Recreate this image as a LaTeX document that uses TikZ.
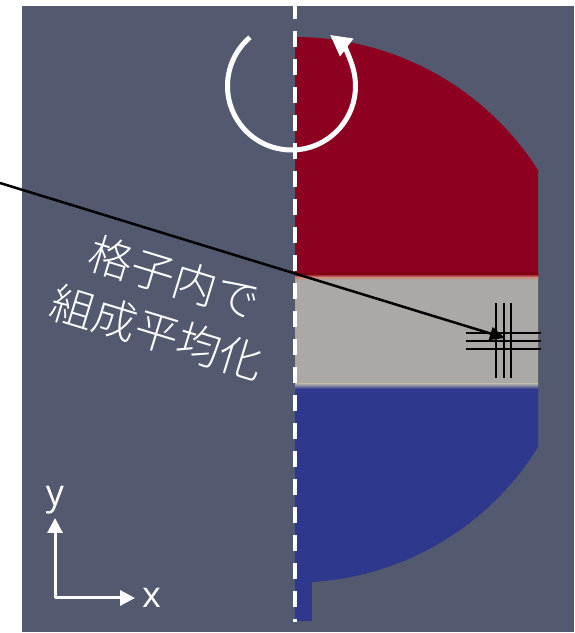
\documentclass[tikz,border=0pt]{standalone}
\usepackage{fontspec}
\newfontfamily\cjkfont{Noto Sans CJK JP Light}
\newfontfamily\axisfont{Open Sans}
\usetikzlibrary{arrows.meta}

\definecolor{viewbg}{RGB}{83,89,111}
\definecolor{hotred}{RGB}{141,0,31}
\definecolor{midgray}{RGB}{170,169,165}
\definecolor{coldblue}{RGB}{46,57,141}

\tikzset{
  axisline/.style={white, line width=3, -{Triangle[length=15,width=15]}},
  gridline/.style={black, line width=2},
  pointer/.style={black, line width=2.5, -{Triangle[length=15,width=13]}},
  spin/.style={white, line width=5, -{Triangle[length=21,width=21]}},
  symaxis/.style={white, line width=4, dash pattern=on 16 off 12},
  note/.style={text=white, font=\cjkfont\fontsize{44}{57}\selectfont, align=center, rotate=-17},
  axislabel/.style={text=white, font=\axisfont\fontsize{36}{40}\selectfont, inner sep=0}
}

\begin{document}
\begin{tikzpicture}[x=1pt,y=1pt]
\useasboundingbox (0,0) rectangle (574,633);

% viewport background
\fill[viewbg] (22,1) rectangle (574,627);

% axisymmetric domain with three composition layers
\begin{scope}
  \clip (295,596) arc[start angle=90,end angle=32.6,radius=288.5]
        -- (538,186) arc[start angle=-31.7,end angle=-86.6,radius=285.6]
        -- (312,12) -- (295,12) -- cycle;
  \fill[hotred]   (290,356) rectangle (545,600);
  \fill[midgray]  (290,246) rectangle (545,356);
  \fill[coldblue] (290,0)   rectangle (545,246);
  \shade[top color=hotred, bottom color=midgray, middle color={rgb,255:red,205;green,140;blue,120}] (290,353) rectangle (545,359);
  \shade[top color=midgray, bottom color=coldblue] (290,244) rectangle (545,249);
\end{scope}

% symmetry axis
\coordinate (axtop) at (295,630);
\coordinate (axbot) at (295,11);
\draw[symaxis] (axtop) -- (axbot);

% rotation marker around the axis
\coordinate (spinc) at (291.5,547);
\draw[spin] ([shift={(130.5:64)}]spinc) arc[start angle=130.5,end angle=413,radius=64];

% grid cell marker
\coordinate (v1t) at (496,330);   \coordinate (v1b) at (496,255);
\coordinate (v2t) at (503.5,330); \coordinate (v2b) at (503.5,255);
\coordinate (v3t) at (511,330);   \coordinate (v3b) at (511,255);
\coordinate (h1l) at (466,300);   \coordinate (h1r) at (541,300);
\coordinate (h2l) at (466,292);   \coordinate (h2r) at (541,292);
\coordinate (h3l) at (466,284);   \coordinate (h3r) at (541,284);
\draw[gridline] (v1t) -- (v1b);
\draw[gridline] (v2t) -- (v2b);
\draw[gridline] (v3t) -- (v3b);
\draw[gridline] (h1l) -- (h1r);
\draw[gridline] (h2l) -- (h2r);
\draw[gridline] (h3l) -- (h3r);

% pointer into the cell
\coordinate (src) at (0,450);
\coordinate (cell) at (505,295);
\draw[pointer] (src) -- (cell);

% annotation
\node[note] (label) at (166,328) {格子内で\\組成平均化};

% coordinate axes
\coordinate (orig) at (55,35);
\coordinate (ytip) at (55,115);
\coordinate (xtip) at (135,35);
\draw[axisline] (orig) -- (ytip);
\draw[axisline] (orig) -- (xtip);
\node[axislabel, anchor=base] (ylab) at (55,127) {y};
\node[axislabel, anchor=base west] (xlab) at (142,26) {x};
\end{tikzpicture}
\end{document}
